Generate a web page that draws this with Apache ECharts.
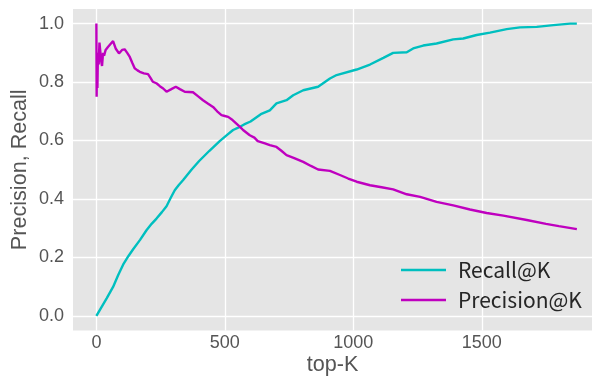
<!DOCTYPE html>
<html>
<head>
<meta charset="utf-8">
<script src="https://cdn.jsdelivr.net/npm/echarts@6/dist/echarts.min.js"></script>
<style>
html,body{margin:0;padding:0;background:#fff;}
#c{width:593px;height:379px;}
</style>
</head>
<body>
<div id="c"></div>
<script>
const recallK = [0,20,40,65,85,104,125,143,170,195,215,234,255,273,290,305,320,337,370,400,440,480,510,532,550,575,600,640,675,701,740,766,805,863,909,935,1013,1065,1117,1155,1208,1233,1272,1324,1389,1428,1480,1532,1597,1649,1714,1779,1844,1870];
const recallV = [0,0.03,0.06,0.099,0.14,0.175,0.205,0.228,0.26,0.293,0.315,0.333,0.355,0.375,0.405,0.43,0.447,0.464,0.5,0.53,0.565,0.598,0.62,0.636,0.643,0.655,0.665,0.69,0.703,0.727,0.738,0.755,0.772,0.784,0.812,0.824,0.843,0.86,0.883,0.9,0.902,0.915,0.925,0.932,0.946,0.949,0.961,0.969,0.981,0.987,0.989,0.995,1.0,1.0];
const precisionK = [0,1,2,4,6,9,12,16,19,22,26,30,36,45,55,65,75,88,100,110,120,130,140,149,160,169,185,201,210,220,235,247,260,273,290,309,325,344,360,376,395,415,435,454,470,487,500,513,530,545,560,571,597,615,628,656,675,701,720,740,770,805,835,863,909,948,980,1013,1065,1110,1155,1208,1260,1324,1389,1454,1519,1584,1675,1750,1800,1870];
const precisionV = [1.0,0.75,0.87,0.78,0.9,0.86,0.935,0.93,0.87,0.855,0.9,0.89,0.91,0.92,0.93,0.94,0.915,0.898,0.91,0.912,0.9,0.886,0.865,0.847,0.84,0.835,0.83,0.827,0.815,0.801,0.795,0.786,0.778,0.767,0.775,0.784,0.776,0.767,0.766,0.765,0.752,0.738,0.726,0.715,0.70,0.687,0.684,0.681,0.67,0.658,0.646,0.636,0.618,0.61,0.598,0.59,0.584,0.578,0.565,0.55,0.54,0.527,0.513,0.501,0.496,0.482,0.47,0.459,0.447,0.44,0.433,0.416,0.407,0.39,0.378,0.364,0.352,0.343,0.328,0.315,0.307,0.297];
const seriesNames = ['Recall@K','Precision@K'];
const xTitle = 'top-K';
const yTitle = 'Precision, Recall';

const zip = (a,b) => a.map((k,i)=>[k,b[i]]);
const tickFont = {fontFamily:'Liberation Sans', fontSize:18, color:'#555555'};
const chart = echarts.init(document.getElementById('c'), null, {renderer:'canvas'});
chart.setOption({
  animation:false,
  backgroundColor:'#ffffff',
  grid:{left:73, top:9, right:1, bottom:48.5, show:true, backgroundColor:'#E5E5E5', borderWidth:0,
        containLabel:false, outerBoundsMode:'none'},
  xAxis:{
    type:'value', min:-91, max:1929, splitNumber:5,
    name:xTitle, nameLocation:'middle', nameGap:24, nameMoveOverlap:false,
    nameTextStyle:{fontFamily:'Liberation Sans', fontSize:21.6, color:'#555555'},
    axisLine:{show:false}, axisTick:{show:false},
    axisLabel:Object.assign({margin:4, showMinLabel:false, showMaxLabel:false,
      formatter:v=>String(Math.round(v))}, tickFont),
    splitLine:{show:true, showMinLine:false, showMaxLine:false, lineStyle:{color:'#ffffff', width:1.3}}
  },
  yAxis:{
    type:'value', min:-0.05, max:1.05, splitNumber:5,
    name:yTitle, nameLocation:'middle', nameGap:42, nameMoveOverlap:false,
    nameTextStyle:{fontFamily:'Liberation Sans', fontSize:21.6, color:'#555555'},
    axisLine:{show:false}, axisTick:{show:false},
    axisLabel:Object.assign({margin:9, showMinLabel:false, showMaxLabel:false,
      formatter:v=>v.toFixed(1)}, tickFont),
    splitLine:{show:true, showMinLine:false, showMaxLine:false, lineStyle:{color:'#ffffff', width:1.3}}
  },
  legend:{
    orient:'vertical', left:396, top:253, icon:'rect',
    itemWidth:45, itemHeight:2.5, itemGap:6,
    textStyle:{fontFamily:'Noto Sans CJK JP', fontSize:21, color:'#262626', lineHeight:24, padding:[0,0,0,7]},
    data:seriesNames
  },
  series:[
    {name:seriesNames[0], type:'line', data:zip(recallK,recallV), showSymbol:false, symbol:'none',
     lineStyle:{color:'#00BFBF', width:2.4}, itemStyle:{color:'#00BFBF'}},
    {name:seriesNames[1], type:'line', data:zip(precisionK,precisionV), showSymbol:false, symbol:'none',
     lineStyle:{color:'#BF00BF', width:2.4}, itemStyle:{color:'#BF00BF'}}
  ]
});
</script>
</body>
</html>
